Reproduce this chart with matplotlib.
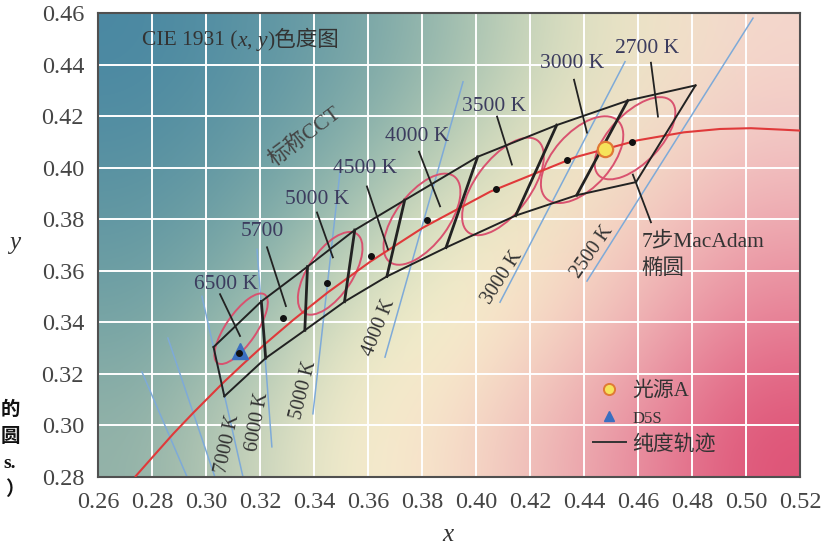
import numpy as np
import matplotlib
matplotlib.use('Agg')
import matplotlib.pyplot as plt
from matplotlib.patches import Ellipse
from matplotlib.lines import Line2D

plt.rcParams['font.family'] = ['Liberation Serif', 'Noto Sans CJK SC']

# axis ticks
x_ticks = [0.26, 0.28, 0.30, 0.32, 0.34, 0.36, 0.38, 0.40, 0.42, 0.44, 0.46, 0.48, 0.50, 0.52]
y_ticks = [0.28, 0.30, 0.32, 0.34, 0.36, 0.38, 0.40, 0.42, 0.44, 0.46]

# Planckian locus (red curve)
locus_x = [0.2737, 0.2807, 0.2880, 0.2952, 0.3064, 0.3135, 0.3221, 0.3324, 0.3451,
           0.3608, 0.3805, 0.4053, 0.4369, 0.4599, 0.4770, 0.4904, 0.5018, 0.5141, 0.5267]
locus_y = [0.2800, 0.2883, 0.2969, 0.3048, 0.3166, 0.3236, 0.3318, 0.3410, 0.3516,
           0.3635, 0.3768, 0.3907, 0.4041, 0.4106, 0.4137, 0.4150, 0.4153, 0.4147, 0.4140]

# nominal CCT quadrangles: shared corners on upper and lower edge of the band
band_upper_x = [0.3028, 0.3205, 0.3376, 0.3551, 0.3736, 0.4006, 0.4299, 0.4562, 0.4813]
band_upper_y = [0.3304, 0.3481, 0.3616, 0.3758, 0.3874, 0.4042, 0.4165, 0.4260, 0.4319]
band_lower_x = [0.3068, 0.3221, 0.3366, 0.3513, 0.3670, 0.3889, 0.4147, 0.4373, 0.4593]
band_lower_y = [0.3113, 0.3261, 0.3369, 0.3480, 0.3578, 0.3690, 0.3814, 0.3893, 0.3944]

cct_names = ['6500 K', '5700', '5000 K', '4500 K', '4000 K', '3500 K', '3000 K', '2700 K']
center_x = [0.3123, 0.3287, 0.3447, 0.3611, 0.3818, 0.4073, 0.4338, 0.4578]
center_y = [0.3282, 0.3417, 0.3553, 0.3658, 0.3797, 0.3917, 0.4030, 0.4101]

# 7-step MacAdam ellipses
ell_x = [0.3130, 0.3460, 0.3800, 0.4100, 0.4393, 0.4589]
ell_y = [0.3375, 0.3590, 0.3800, 0.3927, 0.4031, 0.4114]
ell_w = [0.0318, 0.0364, 0.0409, 0.0439, 0.0402, 0.0394]
ell_h = [0.0114, 0.0167, 0.0197, 0.0205, 0.0212, 0.0189]
ell_ang = [57, 58, 55, 55, 50, 48]

# isotherms (blue lines)
iso_x0 = [0.2763, 0.2859, 0.2985, 0.3189, 0.3496, 0.3952, 0.4552, 0.5026]
iso_y0 = [0.3207, 0.3339, 0.3501, 0.3683, 0.3981, 0.4333, 0.4411, 0.4580]
iso_x1 = [0.2930, 0.3033, 0.3137, 0.3244, 0.3396, 0.3663, 0.4089, 0.4411]
iso_y1 = [0.2800, 0.2800, 0.2800, 0.2917, 0.3045, 0.3265, 0.3478, 0.3560]
iso_names = ['7000 K', '6000 K', '5000 K', '4000 K', '3000 K', '2500 K']

illum_a = (0.4476, 0.4074)
d65 = (0.3127, 0.3290)

# background colours (rows top->bottom, cols left->right)
bg_rgb = [
    [(74, 136, 162), (90, 147, 164), (115, 162, 166), (155, 187, 174), (212, 220, 190), (240, 230, 200), (244, 214, 204)],
    [(86, 144, 162), (103, 155, 164), (135, 176, 170), (190, 208, 182), (238, 234, 198), (246, 220, 200), (242, 194, 194)],
    [(102, 154, 163), (126, 170, 167), (182, 205, 182), (242, 238, 202), (248, 230, 200), (242, 196, 190), (236, 160, 170)],
    [(122, 166, 165), (160, 192, 176), (234, 232, 198), (249, 242, 206), (245, 212, 196), (237, 168, 176), (230, 120, 145)],
    [(146, 178, 168), (198, 210, 186), (247, 240, 206), (247, 224, 202), (238, 182, 182), (231, 135, 155), (222, 82, 118)],
]

label_col = '#3c3c5e'

fig = plt.figure(figsize=(8.29, 5.45), dpi=100)
ax = fig.add_axes([0.1182, 0.1248, 0.8468, 0.8514])
ax.imshow(np.array(bg_rgb) / 255.0, extent=(0.26, 0.52, 0.28, 0.46), origin='upper',
          aspect='auto', interpolation='bicubic', zorder=0)
ax.set_xlim(0.26, 0.52)
ax.set_ylim(0.28, 0.46)
ax.set_xticks(x_ticks)
ax.set_yticks(y_ticks)
ax.set_xticklabels([f'{v:.2f}' for v in x_ticks])
ax.set_yticklabels([f'{v:.2f}' for v in y_ticks])
ax.grid(color='white', lw=1.4)
ax.tick_params(length=0, labelsize=17.5, labelcolor='#454545')
ax.tick_params(axis='x', pad=11)
ax.tick_params(axis='y', pad=10)
for sp in ax.spines.values():
    sp.set_color('#505050')
    sp.set_linewidth(1.5)

# isotherms
for i in range(len(iso_x0)):
    ax.plot([iso_x0[i], iso_x1[i]], [iso_y0[i], iso_y1[i]], color='#7eaad8', lw=1.1, zorder=2)

# ellipses
for i in range(len(ell_x)):
    ax.add_patch(Ellipse((ell_x[i], ell_y[i]), ell_w[i], ell_h[i], angle=ell_ang[i],
                         fill=False, ec='#d9526f', lw=1.4, zorder=3))

# locus
ax.plot(locus_x, locus_y, color='#e0393a', lw=1.5, zorder=4, solid_capstyle='butt')

# quadrangle band
ax.plot(band_upper_x, band_upper_y, color='#222', lw=1.4, zorder=5)
ax.plot(band_lower_x, band_lower_y, color='#222', lw=1.4, zorder=5)
for i in range(len(band_upper_x)):
    lw = 1.4 if i in (0, len(band_upper_x) - 1) else 2.0
    ax.plot([band_upper_x[i], band_lower_x[i]], [band_upper_y[i], band_lower_y[i]],
            color='#222', lw=lw, zorder=5)

# D65 triangle, centre dots, illuminant A
ax.plot(*d65, marker='^', ms=11, color='#3a6fc0', zorder=6, ls='none')
ax.plot(center_x, center_y, 'o', ms=4, color='#111', zorder=7)
ax.plot(*illum_a, marker='o', ms=11, mfc='#f6e35a', mec='#e07a35', mew=1.6, zorder=8, ls='none')

# CCT labels with leader lines (label pos, leader start, leader end)
cct_lab_pos = [(0.3075, 0.3545), (0.3207, 0.3753), (0.3411, 0.3877), (0.3589, 0.3997),
               (0.3781, 0.4120), (0.4067, 0.4236), (0.4356, 0.4403), (0.4633, 0.4461)]
cct_lead = [((0.3052, 0.3509), (0.3126, 0.3347)), ((0.3226, 0.3691), (0.3296, 0.3463)),
            ((0.3411, 0.3826), (0.3470, 0.3652)), ((0.3596, 0.3927), (0.3674, 0.3683)),
            ((0.3789, 0.4062), (0.3867, 0.3850)), ((0.4078, 0.4198), (0.4133, 0.4012)),
            ((0.4363, 0.4341), (0.4411, 0.4136)), ((0.4648, 0.4407), (0.4674, 0.4198))]
for name, pos, (p0, p1) in zip(cct_names, cct_lab_pos, cct_lead):
    ax.text(pos[0], pos[1], name, fontsize=15.5, color=label_col, ha='center', va='center', zorder=9)
    ax.plot([p0[0], p1[0]], [p0[1], p1[1]], color='#222', lw=1.3, zorder=9)

# isotherm labels
iso_lab_pos = [(0.3082, 0.2929), (0.3193, 0.3014), (0.3363, 0.3138), (0.3641, 0.3381),
               (0.4097, 0.3575), (0.4430, 0.3672)]
iso_lab_rot = [78, 80, 76, 68, 57, 55]
for name, pos, rot in zip(iso_names, iso_lab_pos, iso_lab_rot):
    ax.text(pos[0], pos[1], name, fontsize=14.5, color='#333', rotation=rot,
            rotation_mode='anchor', ha='center', va='center', zorder=9)

ax.text(0.3367, 0.4120, '标称CCT', fontsize=15.5, color='#444', rotation=37,
        rotation_mode='anchor', ha='center', va='center', zorder=9)

# MacAdam note
ax.plot([0.4581, 0.4648], [0.3973, 0.3788], color='#222', lw=1.3, zorder=9)
ax.text(0.4612, 0.3714, '7步MacAdam', fontsize=15.5, color='#333', ha='left', va='center', zorder=9)
ax.text(0.4612, 0.3606, '椭圆', fontsize=15.5, color='#333', ha='left', va='center', zorder=9)

# title made of pieces (italic x, y)
pieces = [('CIE 1931 (', 'normal'), ('x', 'italic'), (', ', 'normal'), ('y', 'italic'), (')色度图', 'normal')]
t = ax.text(0.2763, 0.4490, pieces[0][0], fontsize=15.5, color='#333', va='center', ha='left', zorder=9)
for s, st in pieces[1:]:
    t = ax.annotate(s, xy=(1, 0), xycoords=t, fontsize=15.5, color='#333', style=st,
                    va='bottom', ha='left', zorder=9)

# legend
handles = [Line2D([], [], marker='o', ls='none', ms=8, mfc='#f6e35a', mec='#e07a35', mew=1.4),
           Line2D([], [], marker='^', ls='none', ms=7, color='#3a6fc0'),
           Line2D([], [], color='#333', lw=1.4)]
leg = ax.legend(handles, ['光源A', 'D5S', '纯度轨迹'], loc='upper left',
                bbox_to_anchor=(0.69, 0.228), frameon=False, fontsize=15,
                handlelength=1.6, handletextpad=0.3, labelspacing=0.35, borderpad=0)
leg.get_texts()[1].set_fontsize(12)
for txt in leg.get_texts():
    txt.set_color('#333')

# axis labels
fig.text(448 / 829, 1 - 535 / 545, 'x', fontsize=18, style='italic', color='#333', ha='center', va='center')
fig.text(15 / 829, 1 - 243 / 545, 'y', fontsize=18, style='italic', color='#333', ha='center', va='center')

# text at the left page edge
for s, px, py in [('的', 1, 410), ('圆', 1, 437), ('s.', 3, 463), ('）', 5, 490)]:
    fig.text(px / 829, 1 - py / 545, s, fontsize=14, color='#111', ha='left', va='center', weight='bold')

fig.savefig('out.png', dpi=100)
